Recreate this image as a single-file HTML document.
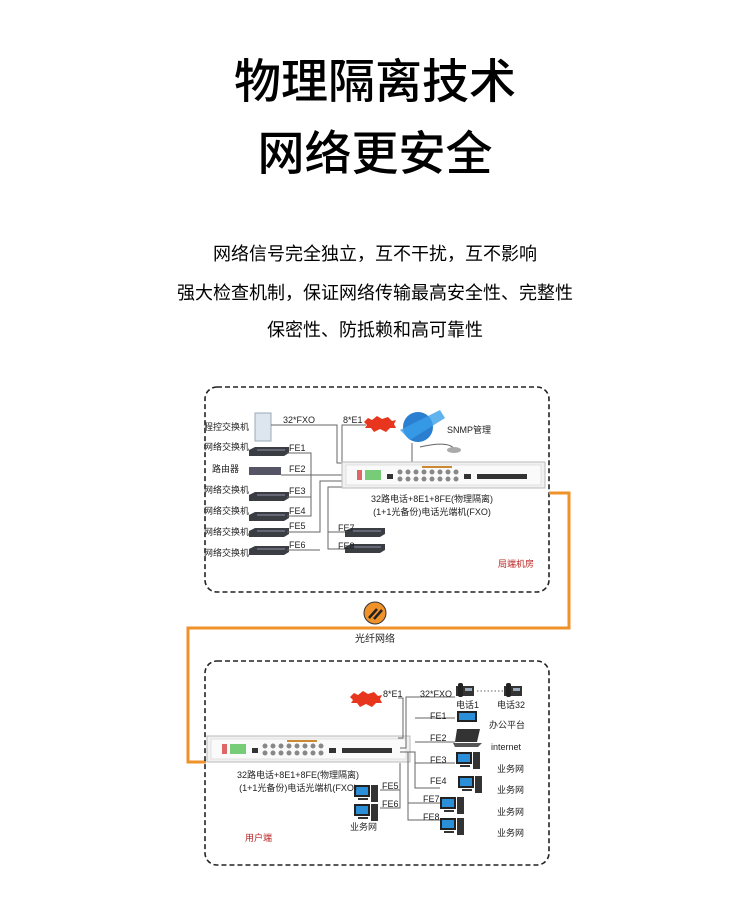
<!DOCTYPE html>
<html><head><meta charset="utf-8">
<style>
body{margin:0;background:#fff;}
.w{position:relative;width:750px;height:900px;overflow:hidden;font-family:"Liberation Sans","Noto Sans CJK SC",sans-serif;}
.t{position:absolute;left:0;width:750px;text-align:center;color:#000;font-family:"Noto Sans CJK SC",sans-serif;font-weight:500;}
svg{position:absolute;left:0;top:0;}
svg text{font-family:"Liberation Sans","Noto Sans CJK SC",sans-serif;fill:#222;}
</style></head><body><div class="w">
<div class="t" style="top:50px;font-size:47px;line-height:56px;">物理隔离技术</div>
<div class="t" style="top:122px;font-size:47px;line-height:56px;">网络更安全</div>
<div class="t" style="top:240px;font-size:18px;line-height:26px;font-weight:400;">网络信号完全独立，互不干扰，互不影响</div>
<div class="t" style="top:279px;font-size:18px;line-height:26px;font-weight:400;">强大检查机制，保证网络传输最高安全性、完整性</div>
<div class="t" style="top:316px;font-size:18px;line-height:26px;font-weight:400;">保密性、防抵赖和高可靠性</div>
<svg width="750" height="900" viewBox="0 0 750 900">
<defs>
<g id="rack">
<rect x="0" y="0" width="203" height="26" fill="#f1f1f1" stroke="#bbb"/>
<rect x="4" y="3" width="195" height="20" fill="#fafafa" stroke="#ccc" stroke-width="0.5"/>
<rect x="15" y="8" width="5" height="10" fill="#d66"/>
<rect x="23" y="8" width="16" height="10" fill="#7c7"/>
<rect x="45" y="12" width="6" height="5" fill="#333"/>
<g fill="#888"><circle cx="58" cy="10" r="2.5"/><circle cx="66" cy="10" r="2.5"/><circle cx="74" cy="10" r="2.5"/><circle cx="82" cy="10" r="2.5"/><circle cx="90" cy="10" r="2.5"/><circle cx="98" cy="10" r="2.5"/><circle cx="106" cy="10" r="2.5"/><circle cx="114" cy="10" r="2.5"/>
<circle cx="58" cy="17" r="2.5"/><circle cx="66" cy="17" r="2.5"/><circle cx="74" cy="17" r="2.5"/><circle cx="82" cy="17" r="2.5"/><circle cx="90" cy="17" r="2.5"/><circle cx="98" cy="17" r="2.5"/><circle cx="106" cy="17" r="2.5"/><circle cx="114" cy="17" r="2.5"/></g>
<rect x="122" y="12" width="7" height="5" fill="#333"/>
<rect x="135" y="12" width="50" height="5" fill="#333"/>
<rect x="80" y="4" width="30" height="2" fill="#c83"/>
</g>
<g id="sw"><path d="M0 3 L6 0 L40 0 L40 6 L35 9 L0 9 Z" fill="#3a3d42"/><rect x="8" y="2" width="28" height="2" fill="#667"/></g>
<g id="pc"><rect x="0" y="0" width="16" height="12" fill="#222"/><rect x="2" y="2" width="12" height="8" fill="#2a8fd8"/><rect x="4" y="13" width="10" height="2" fill="#333"/><rect x="17" y="0" width="7" height="17" fill="#333"/></g>
<g id="star"><polygon points="0,6 4,2 8,4 13,0 18,3 24,1 28,5 32,4 30,8 32,12 26,12 22,16 16,13 10,16 7,12 1,12 3,9" fill="#e8361e"/></g>
<g id="ph"><rect x="0" y="3" width="18" height="10" fill="#333"/><rect x="2" y="0" width="5" height="14" rx="2" fill="#222"/><rect x="9" y="5" width="7" height="3" fill="#9ab"/></g>
</defs>
<rect x="205" y="387" width="344" height="205" rx="12" fill="none" stroke="#222" stroke-width="1.6" stroke-dasharray="5,3"/>
<g font-size="9">
<text x="204" y="430">程控交换机</text>
<text x="204" y="450">网络交换机</text>
<text x="212" y="472">路由器</text>
<text x="204" y="493">网络交换机</text>
<text x="204" y="514">网络交换机</text>
<text x="204" y="535">网络交换机</text>
<text x="204" y="556">网络交换机</text>
</g>
<rect x="255" y="413" width="16" height="28" fill="#dde6ee" stroke="#9ab"/>
<use href="#sw" x="249" y="447"/>
<rect x="249" y="467" width="32" height="8" fill="#556" />
<use href="#sw" x="249" y="492"/>
<use href="#sw" x="249" y="512"/>
<use href="#sw" x="249" y="528"/>
<use href="#sw" x="249" y="546"/>
<use href="#sw" x="345" y="528"/>
<use href="#sw" x="345" y="544"/>
<g stroke="#666" stroke-width="1" fill="none">
<path d="M271 425 H337 V463 H342"/>
<path d="M287 453 H311 V516 H287"/>
<path d="M287 497 H311"/>
<path d="M281 475 H342"/>
<path d="M287 532 H320 V481 H342"/>
<path d="M287 550 H320"/>
<path d="M342 487 H328 V549 H345"/>
<path d="M328 532 H345"/>
<path d="M342 462 V425 H366"/>
<path d="M412 443 V462"/>
<path d="M420 447 Q450 440 455 450"/>
</g>
<g font-size="9">
<text x="283" y="423">32*FXO</text>
<text x="343" y="423">8*E1</text>
<text x="289" y="451">FE1</text>
<text x="289" y="472">FE2</text>
<text x="289" y="494">FE3</text>
<text x="289" y="514">FE4</text>
<text x="289" y="529">FE5</text>
<text x="289" y="548">FE6</text>
<text x="338" y="531">FE7</text>
<text x="338" y="549">FE8</text>
<text x="447" y="433">SNMP管理</text>
<text x="432" y="502" text-anchor="middle">32路电话+8E1+8FE(物理隔离)</text>
<text x="432" y="515" text-anchor="middle">(1+1光备份)电话光端机(FXO)</text>
<text x="498" y="567" style="fill:#b22">局端机房</text>
</g>
<use href="#star" x="364" y="416"/>
<circle cx="418" cy="427" r="15" fill="#2a7fd0"/>
<path d="M400 430 L440 410 L445 418 L410 440 Z" fill="#3aa0ea" opacity="0.8"/>
<ellipse cx="454" cy="450" rx="7" ry="3" fill="#aaa"/>
<use href="#rack" x="342" y="462"/>
<path d="M549 493 H569 V628 H188 V762 H206" fill="none" stroke="#f0922a" stroke-width="3"/>
<circle cx="375" cy="613" r="11" fill="#f0922a" stroke="#333" stroke-width="1"/>
<path d="M369 618 L377 609 M374 619 L382 610" stroke="#222" stroke-width="2.5"/>
<text x="375" y="642" font-size="10" text-anchor="middle">光纤网络</text>
<rect x="205" y="661" width="344" height="204" rx="12" fill="none" stroke="#222" stroke-width="1.6" stroke-dasharray="5,3"/>
<use href="#rack" x="207" y="736"/>
<use href="#star" x="350" y="691"/>
<g stroke="#666" stroke-width="1" fill="none">
<path d="M398 698 H403 V738 H398"/>
<path d="M455 697 H406 V748 H400"/>
<path d="M400 752 H415 V788 H440"/>
<path d="M415 718 H455"/>
<path d="M415 742 H455"/>
<path d="M415 763 H455"/>
<path d="M408 752 V820 H440"/>
<path d="M408 803 H440"/>
<path d="M400 763 V808 H380"/>
<path d="M400 790 H380"/>
<path d="M477 691 H503" stroke-dasharray="1.5,2"/>
</g>
<use href="#ph" x="456" y="683"/>
<use href="#ph" x="504" y="683"/>
<rect x="457" y="711" width="20" height="11" fill="#222"/><rect x="459" y="713" width="16" height="7" fill="#2a8fd8"/>
<path d="M457 729 L480 729 L477 742 L455 742 Z" fill="#333"/><path d="M453 743 H482 L478 747 H455 Z" fill="#555"/>
<use href="#pc" x="456" y="752"/>
<use href="#pc" x="458" y="776"/>
<use href="#pc" x="440" y="797"/>
<use href="#pc" x="440" y="818"/>
<use href="#pc" x="354" y="785"/>
<use href="#pc" x="354" y="804"/>
<g font-size="9">
<text x="383" y="697">8*E1</text>
<text x="420" y="697">32*FXO</text>
<text x="456" y="708">电话1</text>
<text x="497" y="708">电话32</text>
<text x="430" y="719">FE1</text>
<text x="430" y="741">FE2</text>
<text x="430" y="763">FE3</text>
<text x="430" y="784">FE4</text>
<text x="423" y="802">FE7</text>
<text x="423" y="820">FE8</text>
<text x="382" y="789">FE5</text>
<text x="382" y="807">FE6</text>
<text x="489" y="728">办公平台</text>
<text x="491" y="750">internet</text>
<text x="497" y="772">业务网</text>
<text x="497" y="793">业务网</text>
<text x="497" y="815">业务网</text>
<text x="497" y="836">业务网</text>
<text x="350" y="830">业务网</text>
<text x="298" y="778" text-anchor="middle">32路电话+8E1+8FE(物理隔离)</text>
<text x="298" y="791" text-anchor="middle">(1+1光备份)电话光端机(FXO)</text>
<text x="245" y="841" style="fill:#b22">用户端</text>
</g>
</svg>
</div></body></html>
